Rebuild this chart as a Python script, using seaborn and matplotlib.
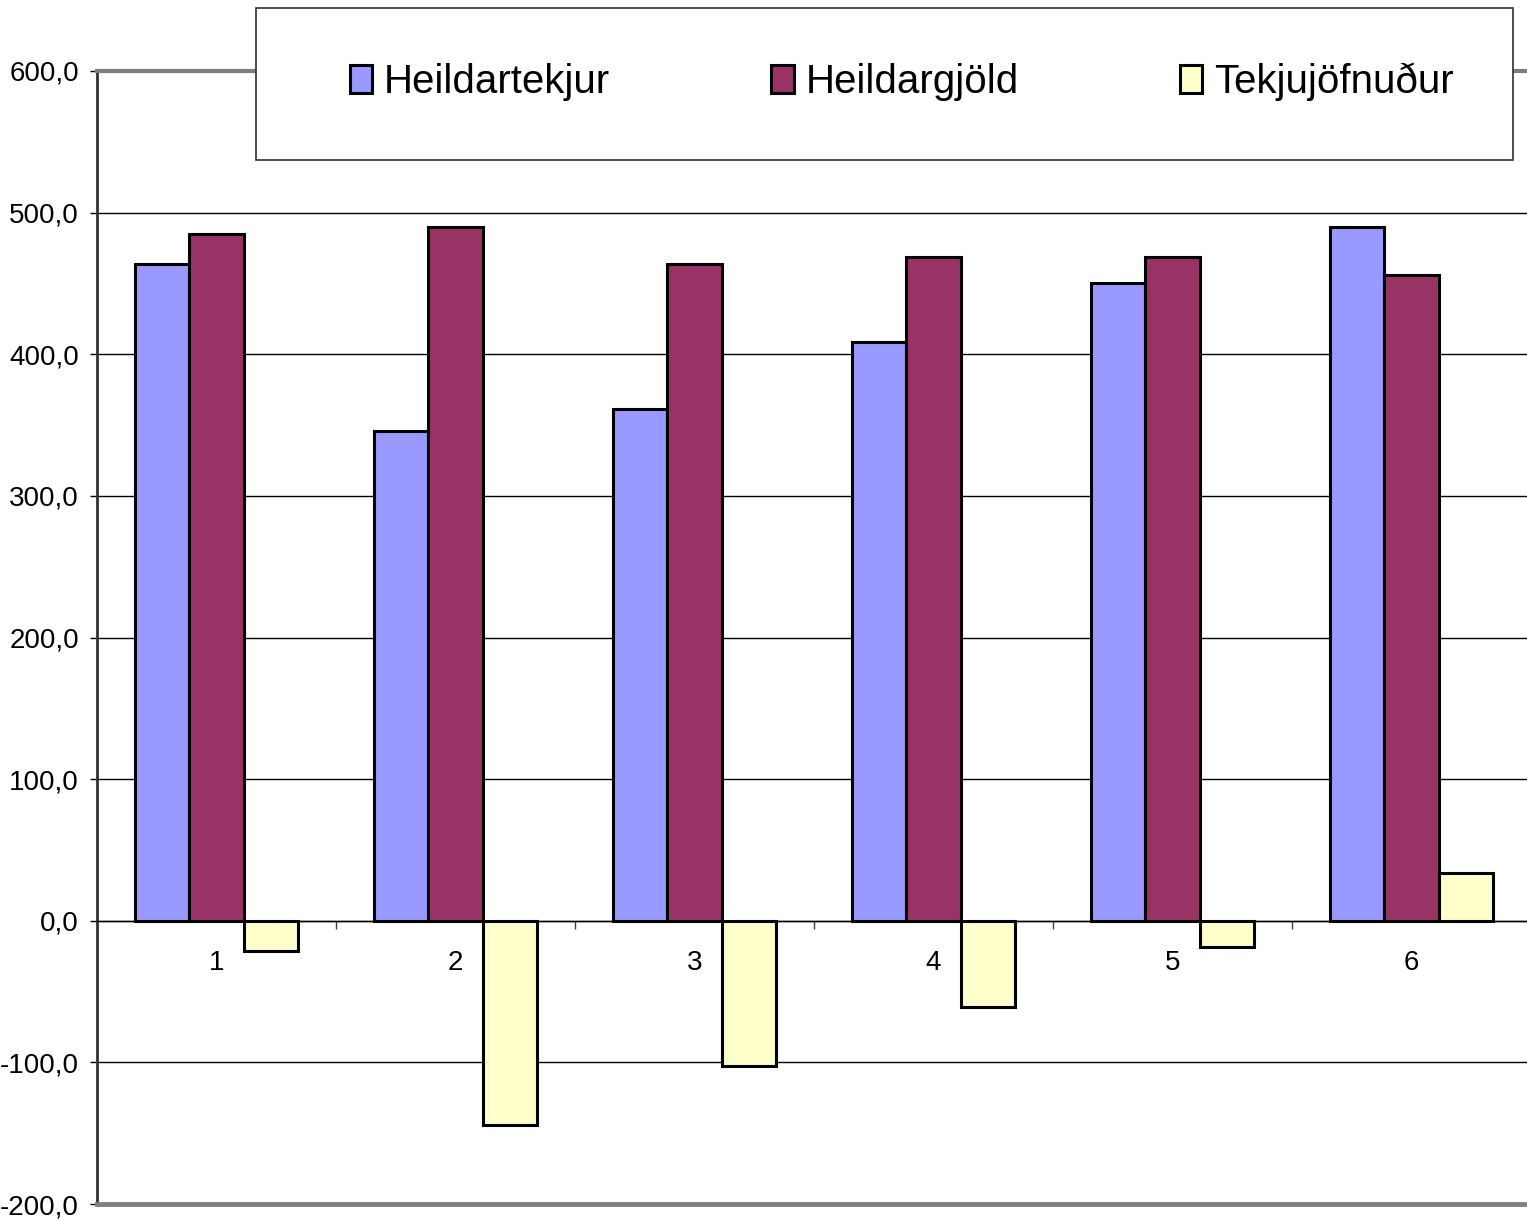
import matplotlib
matplotlib.use("Agg")
import matplotlib.pyplot as plt
from matplotlib.patches import Rectangle
from matplotlib.ticker import FixedLocator, FuncFormatter
import pandas as pd
import seaborn as sns

# gögn lesin af myndinni
flokkar = ["1", "2", "3", "4", "5", "6"]
heildartekjur = [463.8, 345.9, 361.4, 408.7, 450.4, 489.9]
heildargjold = [485.0, 489.9, 463.8, 468.7, 468.7, 456.0]
tekjujofnudur = [-21.5, -144.5, -102.8, -60.6, -18.7, 33.6]
radir = ["Heildartekjur", "Heildargjöld", "Tekjujöfnuður"]
litir = ["#9999FF", "#993366", "#FFFFCC"]

df = pd.DataFrame({
    "flokkur": flokkar * 3,
    "röð": [radir[0]] * 6 + [radir[1]] * 6 + [radir[2]] * 6,
    "gildi": heildartekjur + heildargjold + tekjujofnudur,
})

plt.rcParams['font.family'] = ['Liberation Sans Narrow', 'Liberation Sans', 'DejaVu Sans']

W, H = 1527, 1221
fig = plt.figure(figsize=(W / 100, H / 100), dpi=100)
ax = fig.add_axes([97 / W, 1 - 1204 / H, (1531 - 97) / W, (1204 - 71) / H])

sns.barplot(data=df, x="flokkur", y="gildi", hue="röð", hue_order=radir,
            palette=litir, width=0.68, gap=0, edgecolor="black", linewidth=2.2,
            saturation=1, ax=ax, zorder=3)
handles, labels = ax.get_legend_handles_labels()
if ax.get_legend() is not None:
    ax.get_legend().remove()

ax.set_xlim(-0.5, 5.5)
ax.set_ylim(-200, 600)
ax.set_xlabel("")
ax.set_ylabel("")

# y-ás
ax.yaxis.set_major_locator(FixedLocator(range(-200, 601, 100)))
ax.yaxis.set_major_formatter(FuncFormatter(lambda v, p: f"{v:.1f}".replace(".", ",")))
ax.tick_params(axis="y", labelsize=20, length=5, width=1, pad=8, color="black")
ax.grid(axis="y", color="black", linewidth=1, zorder=0)
ax.set_axisbelow(True)

# x-ás við núll
ax.spines["bottom"].set_position(("data", 0))
ax.spines["bottom"].set_color("black")
ax.spines["bottom"].set_linewidth(1)
ax.spines["bottom"].set_zorder(4)
ax.xaxis.set_minor_locator(FixedLocator([0.5, 1.5, 2.5, 3.5, 4.5]))
ax.tick_params(axis="x", which="major", length=0, labelsize=20, pad=21)
ax.tick_params(axis="x", which="minor", length=6, width=1, direction="out", color="#404040")

ax.spines["left"].set_color("#303030")
ax.spines["left"].set_linewidth(2)
ax.spines["top"].set_color("#808080")
ax.spines["top"].set_linewidth(3)
ax.spines["right"].set_visible(False)
ax.axhline(-200, color="#808080", linewidth=3.5, clip_on=False, zorder=5)

# skýringarkassi
box = Rectangle((256 / W, 1 - 160 / H), (1513 - 256) / W, (160 - 8) / H,
                transform=fig.transFigure, facecolor="white", edgecolor="#303030",
                linewidth=1.2, zorder=4)
fig.add_artist(box)
leg = fig.legend(handles, labels, loc="center left",
                 bbox_to_anchor=(350 / W, 1 - 82 / H),
                 ncol=3, frameon=False, fontsize=29, borderpad=0, borderaxespad=0,
                 handlelength=0.55, handleheight=0.7, handletextpad=0.3,
                 columnspacing=4.0)
leg.set_zorder(6)

fig.savefig("out.png", dpi=100)
